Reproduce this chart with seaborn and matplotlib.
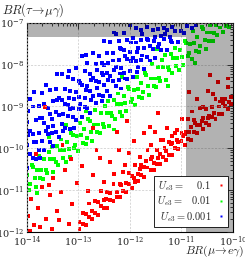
import numpy as np
import pandas as pd
import matplotlib
matplotlib.use("Agg")
import matplotlib.pyplot as plt
from matplotlib.lines import Line2D
import seaborn as sns

# Puntos, en log10(BR)
# (log10 BR(mu->e gamma), log10 BR(tau->mu gamma))
red_points = [
    (-12.98, -11.94), (-12.98, -11.76), (-12.92, -11.81), (-12.92, -11.55), (-12.86, -11.84), (-12.86, -11.57),
    (-12.80, -11.64), (-12.80, -11.32), (-12.74, -11.68), (-12.74, -11.49), (-12.68, -11.55), (-12.68, -11.27),
    (-12.62, -11.59), (-12.62, -11.29), (-12.56, -11.37), (-12.56, -11.02), (-12.50, -11.42), (-12.50, -11.23),
    (-12.44, -11.42), (-12.44, -11.05), (-12.38, -11.24), (-12.38, -11.07), (-12.32, -11.27), (-12.32, -10.86),
    (-12.26, -11.05), (-12.26, -11.16), (-12.20, -11.17), (-12.20, -10.85), (-12.14, -11.02), (-12.14, -10.56),
    (-12.08, -11.04), (-12.08, -10.82), (-12.02, -10.85), (-12.02, -10.59), (-11.96, -10.94), (-11.96, -10.66),
    (-11.90, -10.81), (-11.90, -10.39), (-11.84, -10.78), (-11.84, -10.61), (-11.78, -10.63), (-11.78, -10.40),
    (-11.72, -10.69), (-11.72, -10.44), (-11.66, -10.46), (-11.66, -10.04), (-11.60, -10.53), (-11.60, -10.26),
    (-11.54, -10.52), (-11.54, -10.36), (-11.48, -10.37), (-11.48, -10.03), (-11.42, -10.38), (-11.42, -10.13),
    (-11.36, -10.20), (-11.36, -9.81), (-11.30, -10.27), (-11.30, -10.06), (-11.24, -10.15), (-11.24, -9.84),
    (-11.18, -10.16), (-11.18, -9.87), (-11.12, -9.99), (-11.12, -9.63), (-11.06, -10.01), (-11.06, -9.85),
    (-11.00, -9.82), (-11.00, -9.64), (-10.94, -9.91), (-10.94, -9.67), (-10.88, -9.78), (-10.88, -9.31),
    (-10.82, -9.80), (-10.82, -9.49), (-10.76, -9.62), (-10.76, -9.32), (-10.70, -9.64), (-10.70, -9.45),
    (-10.64, -9.45), (-10.64, -9.03), (-10.58, -9.54), (-10.58, -9.28), (-10.52, -9.40), (-10.52, -9.05),
    (-10.46, -9.44), (-10.46, -9.23), (-10.40, -9.25), (-10.40, -9.02), (-10.34, -9.29), (-10.34, -8.82),
    (-10.28, -9.19), (-10.28, -9.00), (-10.22, -9.19), (-10.22, -8.81), (-10.16, -8.99), (-10.16, -8.82),
    (-10.10, -9.06), (-10.10, -8.54), (-10.04, -8.93), (-10.04, -8.78),
    (-12.47, -11.22), (-12.17, -10.88), (-11.93, -10.71), (-11.69, -10.31), (-11.45, -10.24), (-11.21, -9.89),
    (-10.97, -9.71), (-10.73, -9.40), (-10.49, -9.27), (-10.25, -8.88), (-10.07, -8.89), (-11.81, -10.49),
    (-11.33, -9.99), (-10.85, -9.62), (-10.37, -9.15), (-10.61, -9.35), (-11.09, -9.81), (-11.57, -10.21),
    (-13.98, -11.62), (-13.92, -11.21), (-13.86, -11.83), (-13.79, -11.42), (-13.71, -10.93), (-13.63, -11.68),
    (-13.56, -11.12), (-13.49, -10.71), (-13.42, -11.51), (-13.33, -11.04), (-13.26, -10.52), (-13.19, -11.81),
    (-13.12, -11.33), (-13.03, -10.82), (-12.94, -10.43), (-12.82, -11.02), (-12.71, -10.63), (-12.59, -10.24),
    (-12.51, -10.81), (-12.39, -10.32), (-12.31, -10.62), (-12.21, -10.03), (-12.09, -10.41), (-12.01, -10.12),
    (-11.92, -9.83), (-11.81, -10.21), (-11.72, -9.64), (-11.59, -9.93), (-11.51, -9.62), (-11.39, -9.81),
    (-11.29, -9.52), (-11.19, -9.71), (-11.09, -9.56), (-10.99, -9.31), (-10.91, -9.62), (-10.79, -9.12),
    (-10.69, -8.83), (-10.59, -9.02), (-10.49, -8.62), (-10.39, -8.71), (-10.29, -8.42), (-10.19, -8.91),
    (-10.09, -8.33), (-13.94, -11.97), (-13.74, -11.88), (-13.52, -11.94), (-13.37, -11.72),
    (-12.65, -10.05), (-12.25, -9.62), (-11.45, -9.15), (-10.85, -8.65), (-10.45, -8.25), (-13.15, -10.25),
    (-12.05, -9.35), (-13.58, -10.88),
    (-13.65, -9.02), (-12.72, -9.51), (-13.31, -9.92), (-13.82, -10.13), (-11.62, -9.48),
]

green_points = [
    (-13.99, -10.64), (-13.96, -10.99), (-13.94, -10.86), (-13.91, -10.39), (-13.88, -10.44), (-13.85, -10.70),
    (-13.83, -10.92), (-13.80, -10.53), (-13.77, -10.19), (-13.74, -10.71), (-13.72, -10.53), (-13.69, -10.74),
    (-13.66, -10.26), (-13.63, -10.52), (-13.61, -10.60), (-13.58, -10.09), (-13.55, -10.26), (-13.52, -9.96),
    (-13.50, -10.56), (-13.47, -10.25),
    (-13.44, -10.32), (-13.41, -9.94), (-13.39, -10.40), (-13.36, -10.05), (-13.33, -9.79), (-13.30, -10.24),
    (-13.28, -10.04), (-13.25, -10.33), (-13.22, -9.84), (-13.19, -10.02), (-13.17, -10.21), (-13.14, -9.63),
    (-13.11, -9.68), (-13.08, -9.99), (-13.06, -9.92), (-13.03, -9.70), (-13.00, -10.07), (-12.97, -9.40),
    (-12.95, -9.69), (-12.92, -9.88),
    (-12.89, -9.54), (-12.86, -9.89), (-12.84, -9.76), (-12.81, -9.29), (-12.78, -9.34), (-12.75, -9.60),
    (-12.73, -9.82), (-12.70, -9.43), (-12.67, -9.09), (-12.64, -9.61), (-12.62, -9.43), (-12.59, -9.64),
    (-12.56, -9.16), (-12.53, -9.42), (-12.51, -9.50), (-12.48, -8.99), (-12.45, -9.16), (-12.42, -8.86),
    (-12.40, -9.46), (-12.37, -9.15),
    (-12.34, -9.22), (-12.31, -8.84), (-12.29, -9.30), (-12.26, -8.95), (-12.23, -8.69), (-12.20, -9.14),
    (-12.18, -8.94), (-12.15, -9.23), (-12.12, -8.74), (-12.09, -8.92), (-12.07, -9.11), (-12.04, -8.53),
    (-12.01, -8.58), (-11.98, -8.89), (-11.96, -8.82), (-11.93, -8.60), (-11.90, -8.97), (-11.87, -8.30),
    (-11.85, -8.59), (-11.82, -8.78),
    (-11.79, -8.44), (-11.76, -8.79), (-11.74, -8.66), (-11.71, -8.19), (-11.68, -8.24), (-11.65, -8.50),
    (-11.63, -8.72), (-11.60, -8.33), (-11.57, -7.99), (-11.54, -8.51), (-11.52, -8.33), (-11.49, -8.54),
    (-11.46, -8.06), (-11.43, -8.32), (-11.41, -8.40), (-11.38, -7.89), (-11.35, -8.06), (-11.32, -7.76),
    (-11.30, -8.36), (-11.27, -8.05),
    (-11.24, -8.12), (-11.21, -7.74), (-11.19, -8.20), (-11.16, -7.85), (-11.13, -7.59), (-11.10, -8.04),
    (-11.08, -7.84), (-11.05, -8.13), (-11.02, -7.64), (-10.99, -7.82), (-10.97, -8.01), (-10.94, -7.43),
    (-10.91, -7.48), (-10.88, -7.79), (-10.86, -7.72), (-10.83, -7.50), (-10.80, -7.87), (-10.77, -7.20),
    (-10.75, -7.49), (-10.72, -7.68),
    (-10.69, -7.34), (-10.66, -7.69), (-10.64, -7.56), (-10.61, -7.09), (-10.58, -7.14), (-10.55, -7.40),
    (-10.53, -7.62), (-10.50, -7.23), (-10.47, -7.44), (-10.44, -7.05), (-10.42, -7.23), (-10.39, -7.44),
    (-10.36, -7.25), (-10.33, -7.06), (-10.31, -7.30), (-10.25, -7.11), (-10.20, -7.22), (-10.14, -7.08),
    (-10.08, -7.09),
    (-13.58, -9.72), (-12.86, -9.12), (-12.15, -8.30), (-11.48, -7.62), (-13.80, -11.06), (-12.31, -9.55),
    (-11.26, -8.50), (-10.73, -7.95), (-13.25, -9.45),
]

blue_points = [
    (-13.99, -10.47), (-13.99, -9.92), (-13.99, -9.36), (-13.94, -10.13), (-13.94, -9.59), (-13.94, -8.82),
    (-13.88, -10.24), (-13.88, -9.66), (-13.88, -9.00), (-13.83, -9.86), (-13.83, -9.32), (-13.83, -10.25),
    (-13.77, -9.63), (-13.77, -8.98), (-13.77, -10.05), (-13.71, -9.82), (-13.71, -9.28), (-13.71, -8.68),
    (-13.66, -9.39), (-13.66, -10.05), (-13.66, -8.95), (-13.60, -9.66), (-13.60, -9.04), (-13.60, -9.48),
    (-13.55, -9.85), (-13.55, -9.17), (-13.55, -8.60), (-13.49, -9.46), (-13.49, -8.87), (-13.49, -9.94),
    (-13.43, -9.60), (-13.43, -9.14), (-13.43, -8.59), (-13.38, -9.20), (-13.38, -9.72), (-13.38, -8.80),
    (-13.32, -9.41), (-13.32, -8.85), (-13.32, -8.23), (-13.27, -8.94), (-13.27, -9.51), (-13.27, -8.58),
    (-13.21, -9.23), (-13.21, -8.97), (-13.21, -8.30), (-13.16, -9.53), (-13.16, -8.64), (-13.16, -9.05),
    (-13.10, -9.04), (-13.10, -8.34), (-13.10, -9.26), (-13.05, -9.33), (-13.05, -8.66), (-13.05, -8.07),
    (-12.99, -8.78), (-12.99, -9.06), (-12.99, -8.39), (-12.94, -9.26), (-12.94, -8.49), (-12.94, -7.79),
    (-12.88, -8.79), (-12.88, -8.16), (-12.88, -9.01), (-12.83, -9.04), (-12.83, -8.52), (-12.83, -7.97),
    (-12.77, -8.62), (-12.77, -9.15), (-12.77, -8.23), (-12.72, -8.76), (-12.72, -8.31), (-12.72, -7.71),
    (-12.66, -8.39), (-12.66, -8.92), (-12.66, -7.99), (-12.61, -8.73), (-12.61, -8.42), (-12.61, -7.79),
    (-12.55, -8.19), (-12.55, -8.86), (-12.55, -7.97), (-12.50, -8.48), (-12.50, -8.01), (-12.50, -7.44),
    (-12.44, -8.63), (-12.44, -8.19), (-12.44, -7.71), (-12.39, -8.27), (-12.39, -8.74), (-12.39, -7.46),
    (-12.33, -8.38), (-12.33, -7.90), (-12.33, -7.72), (-12.28, -8.05), (-12.28, -8.51), (-12.28, -7.26),
    (-12.22, -8.36), (-12.22, -7.88), (-12.22, -7.43), (-12.17, -8.09), (-12.17, -8.57), (-12.17, -7.62),
    (-12.11, -8.19), (-12.11, -7.64), (-12.11, -7.24), (-12.06, -7.87), (-12.06, -8.35), (-12.06, -7.40),
    (-12.00, -8.16), (-12.00, -7.69), (-12.00, -7.05), (-11.95, -7.84), (-11.95, -8.29), (-11.95, -7.37),
    (-11.89, -7.92), (-11.89, -7.47), (-11.89, -7.13), (-11.84, -7.59), (-11.84, -8.05),
    (-11.78, -7.88), (-11.78, -7.42), (-11.78, -7.16), (-11.73, -7.59), (-11.73, -8.10),
    (-11.67, -7.82), (-11.67, -7.38), (-11.67, -7.09), (-11.62, -7.55), (-11.62, -7.90),
    (-11.56, -7.62), (-11.56, -7.16), (-11.51, -7.33), (-11.51, -7.83), (-11.45, -7.58), (-11.45, -7.14),
    (-11.40, -7.31), (-11.40, -7.65), (-11.34, -7.38), (-11.34, -7.12), (-11.29, -7.65), (-11.29, -7.16),
    (-11.23, -7.34), (-11.18, -7.47), (-11.18, -7.10), (-11.12, -7.19), (-11.07, -7.45), (-11.01, -7.20),
    (-10.95, -7.25), (-10.89, -7.07), (-10.80, -7.12), (-10.71, -7.05),
    (-13.97, -9.69), (-13.97, -9.11), (-13.86, -9.84), (-13.86, -8.65), (-13.74, -9.28), (-13.74, -10.24),
    (-13.63, -9.58), (-13.63, -8.49), (-13.52, -9.31), (-13.52, -9.64), (-13.41, -8.84), (-13.41, -8.23),
    (-13.30, -9.18), (-13.30, -9.59), (-13.19, -8.79), (-13.19, -8.14), (-13.08, -8.81), (-13.08, -9.51),
    (-12.97, -8.44), (-12.97, -8.95), (-12.86, -8.61), (-12.86, -7.76), (-12.75, -8.37), (-12.75, -8.85),
    (-12.64, -8.55), (-12.64, -8.13), (-12.53, -8.25), (-12.53, -8.74), (-12.42, -7.95), (-12.42, -8.37),
    (-12.31, -8.13), (-12.31, -7.23), (-12.20, -7.60), (-12.20, -8.21), (-12.09, -7.80), (-12.09, -8.33),
    (-11.98, -7.47), (-11.98, -7.92), (-11.87, -7.70), (-11.87, -8.17), (-11.76, -7.27), (-11.76, -7.78),
    (-11.65, -7.41), (-11.54, -7.44), (-11.43, -7.51), (-11.32, -7.27), (-11.21, -7.44),
]

ue3_labels = ['0.1', '0.01', '0.001']
ue3_colors = {'0.1': '#ff0000', '0.01': '#00ff00', '0.001': '#0000ff'}

# Cotas experimentales
meg_bound = 1.2e-11      # BR(mu -> e gamma)
babar_bound = 4.5e-8     # BR(tau -> mu gamma)


def build_frame():
    frames = []
    # orden de dibujo: verde, azul, rojo
    for label, pts in [('0.01', green_points), ('0.001', blue_points), ('0.1', red_points)]:
        arr = np.array(pts)
        frames.append(pd.DataFrame({'mueg': 10 ** arr[:, 0], 'taumug': 10 ** arr[:, 1], 'Ue3': label}))
    return pd.concat(frames, ignore_index=True)


df = build_frame()

sns.set_style("white")
plt.rcParams['mathtext.fontset'] = 'cm'
plt.rcParams['font.family'] = ['DejaVu Serif']

fig = plt.figure(figsize=(2.45, 2.6), dpi=100)
ax = fig.add_axes([0.110, 0.108, 0.841, 0.804])

sns.scatterplot(data=df, x='mueg', y='taumug', hue='Ue3', palette=ue3_colors,
                marker='s', s=8, linewidth=0, legend=False, ax=ax, zorder=2)

ax.set_xscale('log')
ax.set_yscale('log')
ax.set_xlim(1e-14, 1e-10)
ax.set_ylim(1e-12, 1e-7)

# regiones excluidas
ax.axhspan(babar_bound, 1e-7, color='black', alpha=0.3, lw=0, zorder=3)
ax.axvspan(meg_bound, 1e-10, ymin=0, ymax=(np.log10(babar_bound) + 12) / 5,
           color='black', alpha=0.3, lw=0, zorder=3)

ax.grid(True, which='major', ls=(0, (3, 2)), lw=0.5, color='#c8c8c8', zorder=4)
ax.set_axisbelow(False)

ax.tick_params(which='both', direction='in', top=True, right=True, labelsize=7, width=0.6, pad=2)
ax.tick_params(which='major', length=4)
ax.tick_params(which='minor', length=2)
for sp in ax.spines.values():
    sp.set_linewidth(0.8)
    sp.set_color('black')

ax.set_xlabel('')
ax.set_ylabel('')
fig.text(0.008, 0.995, r'$BR(\tau\!\rightarrow\!\mu\gamma)$', ha='left', va='top', fontsize=9)
fig.text(0.995, 0.002, r'$BR(\mu\!\rightarrow\!e\gamma)$', ha='right', va='bottom', fontsize=8.5)

handles = [Line2D([], [], ls='', marker='s', ms=2, mec='none', mfc=ue3_colors[k]) for k in ue3_labels]
labels = [r'$U_{e3}=\quad\ 0.1$', r'$U_{e3}=\ \enspace 0.01$', r'$U_{e3}=0.001$']
leg = ax.legend(handles, labels, loc='lower right', bbox_to_anchor=(0.975, 0.025), borderaxespad=0,
                fontsize=7.5, markerfirst=False, handlelength=0.8, handletextpad=0.5,
                labelspacing=0.15, borderpad=0.3, fancybox=False, framealpha=1, edgecolor='black')
leg.get_frame().set_linewidth(0.6)
leg.set_zorder(6)

fig.savefig('out.png', dpi=100)
